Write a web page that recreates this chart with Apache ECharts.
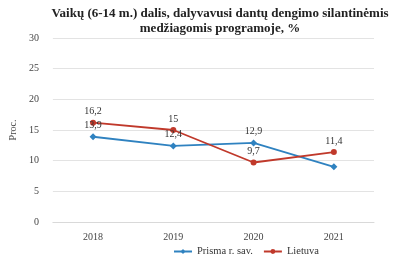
<!DOCTYPE html>
<html><head><meta charset="utf-8">
<script src="https://cdn.jsdelivr.net/npm/echarts@6/dist/echarts.min.js"></script>
<style>html,body{margin:0;padding:0;background:#fff}#c{width:400px;height:256px}</style>
</head><body><div id="c"></div>
<script>
const categories = ['2018', '2019', '2020', '2021'];
const prisma = [13.9, 12.4, 12.9, 9.0];
const lietuva = [16.2, 15, 9.7, 11.4];
const prismaLabels = ['13,9', '12,4', '12,9', ''];
const lietuvaLabels = ['16,2', '15', '9,7', '11,4'];
const yTicks = [0, 5, 10, 15, 20, 25, 30];

const F = 'Liberation Serif';
const chart = echarts.init(document.getElementById('c'));
chart.setOption({
  animation: false,
  textStyle: { fontFamily: F },
  title: {
    text: 'Vaikų (6-14 m.) dalis, dalyvavusi dantų dengimo silantinėmis\nmedžiagomis programoje, %',
    left: 215, top: 1, textAlign: 'center',
    textStyle: { fontFamily: F, fontSize: 13, fontWeight: 'bold', color: '#222', lineHeight: 15 }
  },
  grid: { left: 50, right: 26, top: 38, bottom: 34 },
  legend: {
    bottom: -6, left: 168, itemWidth: 18, itemHeight: 6, itemGap: 10,
    textStyle: { fontFamily: F, fontSize: 10.5, color: '#333' },
    data: ['Prisma r. sav.', 'Lietuva']
  },
  xAxis: {
    type: 'category', data: categories, boundaryGap: true,
    axisLine: { lineStyle: { color: '#d9d9d9' } }, axisTick: { show: false },
    axisLabel: { fontFamily: F, fontSize: 10, color: '#444', margin: 10 }
  },
  yAxis: {
    type: 'value', min: yTicks[0], max: yTicks[yTicks.length - 1], interval: 5,
    name: 'Proc.', nameLocation: 'middle', nameGap: 27, nameRotate: 90,
    nameTextStyle: { fontFamily: F, fontSize: 10, color: '#444' },
    axisLine: { show: false }, axisTick: { show: false },
    axisLabel: { fontFamily: F, fontSize: 10, color: '#444', margin: 14 },
    splitLine: { lineStyle: { color: '#e3e3e3' } }
  },
  series: [
    {
      name: 'Prisma r. sav.', type: 'line', data: prisma,
      symbol: 'diamond', symbolSize: 7,
      itemStyle: { color: '#2f82c0' }, lineStyle: { width: 1.8, color: '#2f82c0' },
      label: { show: true, position: 'top', distance: 3, fontFamily: F, fontSize: 10, color: '#333',
        formatter: p => prismaLabels[p.dataIndex] }
    },
    {
      name: 'Lietuva', type: 'line', data: lietuva,
      symbol: 'circle', symbolSize: 6,
      itemStyle: { color: '#c0392b' }, lineStyle: { width: 1.8, color: '#c0392b' },
      label: { show: true, position: 'top', distance: 3, fontFamily: F, fontSize: 10, color: '#333',
        formatter: p => lietuvaLabels[p.dataIndex] }
    }
  ]
});
</script></body></html>
